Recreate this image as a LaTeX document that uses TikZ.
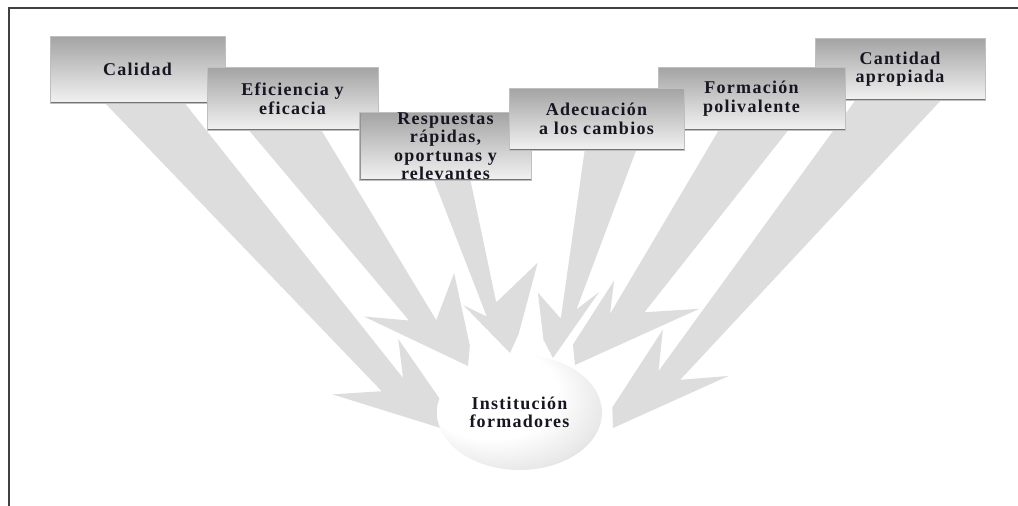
\documentclass[tikz,border=0pt]{standalone}
\usepackage{fontspec}
\setmainfont{Liberation Serif}
\newfontfamily\lblfont[LetterSpace=7]{Liberation Serif}
\usetikzlibrary{calc,shapes.geometric}

\definecolor{boltgray}{RGB}{221,221,221}
\definecolor{ink}{RGB}{22,22,34}

% soft sphere: white highlight towards the upper left, grey rim lower right
\pgfdeclareradialshading{orb}{\pgfpoint{-14bp}{14bp}}{%
  color(0bp)=(white); color(20bp)=(white); color(31bp)=(black!9);
  color(41bp)=(black!28); color(50bp)=(black!46)}

% zigzag arrow: #1 outer top corner, #2 inner top corner, #3 tip,
% #4 turn towards the outer side, #5/#6 outer barb (back, offset),
% #7/#8 inner spike (back, offset)
\newcommand\zbolt[8]{%
  \coordinate (zt) at ($(#1)!0.5!(#2)$);
  \coordinate (zc) at ($(#3)!{0.7*#5pt}!(zt)$);
  \coordinate (zd) at ($(#3)!#5pt!(zt)$);
  \coordinate (zf) at ($(#3)!15pt!(zt)$);
  \coordinate (zg) at ($(#3)!#7pt!(zt)$);
  \coordinate (zh) at ($(#3)!{0.68*#7pt}!(zt)$);
  \fill[bolt] (#1)
    -- ($(zc)!{0.36*#6pt}!#4:(zt)$)
    -- ($(zd)!#6pt!#4:(zt)$)
    -- (#3)
    -- ($(zf)!-14pt!#4:(zt)$)
    -- ($(zg)!-#8pt!#4:(zt)$)
    -- ($(zh)!-3pt!#4:(zt)$)
    -- (#2) -- cycle;
}

\begin{document}
\begin{tikzpicture}[x=1pt,y=-1pt,
  bolt/.style={fill=boltgray},
  lbl/.style={font=\lblfont\bfseries\fontsize{18}{18.5}\selectfont,
    text=ink, align=center},
  boxst/.style={lbl, rectangle, inner sep=0pt,
    draw=black!25, line width=0.6pt,
    top color=black!36, bottom color=black!5,
    path picture={
      \draw[black!55,line width=3pt]
        (path picture bounding box.south west) -- (path picture bounding box.south east);
      \draw[black!42,line width=2.4pt]
        (path picture bounding box.south west) -- (path picture bounding box.north west);}},
  frame/.style={draw=black!75, line width=2pt}
]
\useasboundingbox (0,0) rectangle (1018,506);

% page frame (left and top rules)
\draw[frame] (8.5,506) -- (8.5,7.5) -- (1018,7.5);

% band origins under the boxes and tips at the sphere
\coordinate (cal-o) at (103,101);  \coordinate (cal-i) at (183,101);  \coordinate (cal-t) at (447,430);
\coordinate (efi-o) at (247,128);  \coordinate (efi-i) at (320,128);  \coordinate (efi-t) at (468,366);
\coordinate (res-o) at (433,178);  \coordinate (res-i) at (470,178);  \coordinate (res-t) at (510,353);
\coordinate (ade-o) at (637,148);  \coordinate (ade-i) at (585,148);  \coordinate (ade-t) at (553,358);
\coordinate (for-o) at (790,128);  \coordinate (for-i) at (720,128);  \coordinate (for-t) at (575,365);
\coordinate (can-o) at (943,98);   \coordinate (can-i) at (857,98);   \coordinate (can-t) at (613,428);

% zigzag arrows
\zbolt{cal-o}{cal-i}{cal-t}{90}{104}{60}{100}{26}
\zbolt{efi-o}{efi-i}{efi-t}{90}{103}{52}{82}{46}
\zbolt{res-o}{res-i}{res-t}{90}{60}{29}{77}{55}
\zbolt{ade-o}{ade-i}{ade-t}{-90}{76}{27}{59}{32}
\zbolt{for-o}{for-i}{for-t}{-90}{120}{65}{91}{20}
\zbolt{can-o}{can-i}{can-t}{-90}{115}{53}{107}{27}

% boxes, outer ones first so the middle ones lie on top
\node[boxst, minimum width=175pt, minimum height=67pt] (cal) at (137.5,69.5) {Calidad};
\node[boxst, minimum width=171pt, minimum height=63pt] (efi) at (292.5,98.5) {Eficiencia y\\eficacia};
\node[boxst, minimum width=172pt, minimum height=68pt] (res) at (445.5,146) {Respuestas\\rápidas,\\oportunas y\\relevantes};
\node[boxst, minimum width=170pt, minimum height=62pt] (can) at (900,69) {Cantidad\\apropiada};
\node[boxst, minimum width=187pt, minimum height=63pt] (for) at (751.5,98.5) {Formación\\polivalente};
\node[boxst, minimum width=175pt, minimum height=62pt] (ade) at (596.5,119) {Adecuación\\a los cambios};

% central sphere
\node[lbl, ellipse, shading=orb, inner sep=0pt,
  minimum width=165pt, minimum height=115pt] (inst) at (519.5,412.5) {Institución\\formadores};
\end{tikzpicture}
\end{document}
